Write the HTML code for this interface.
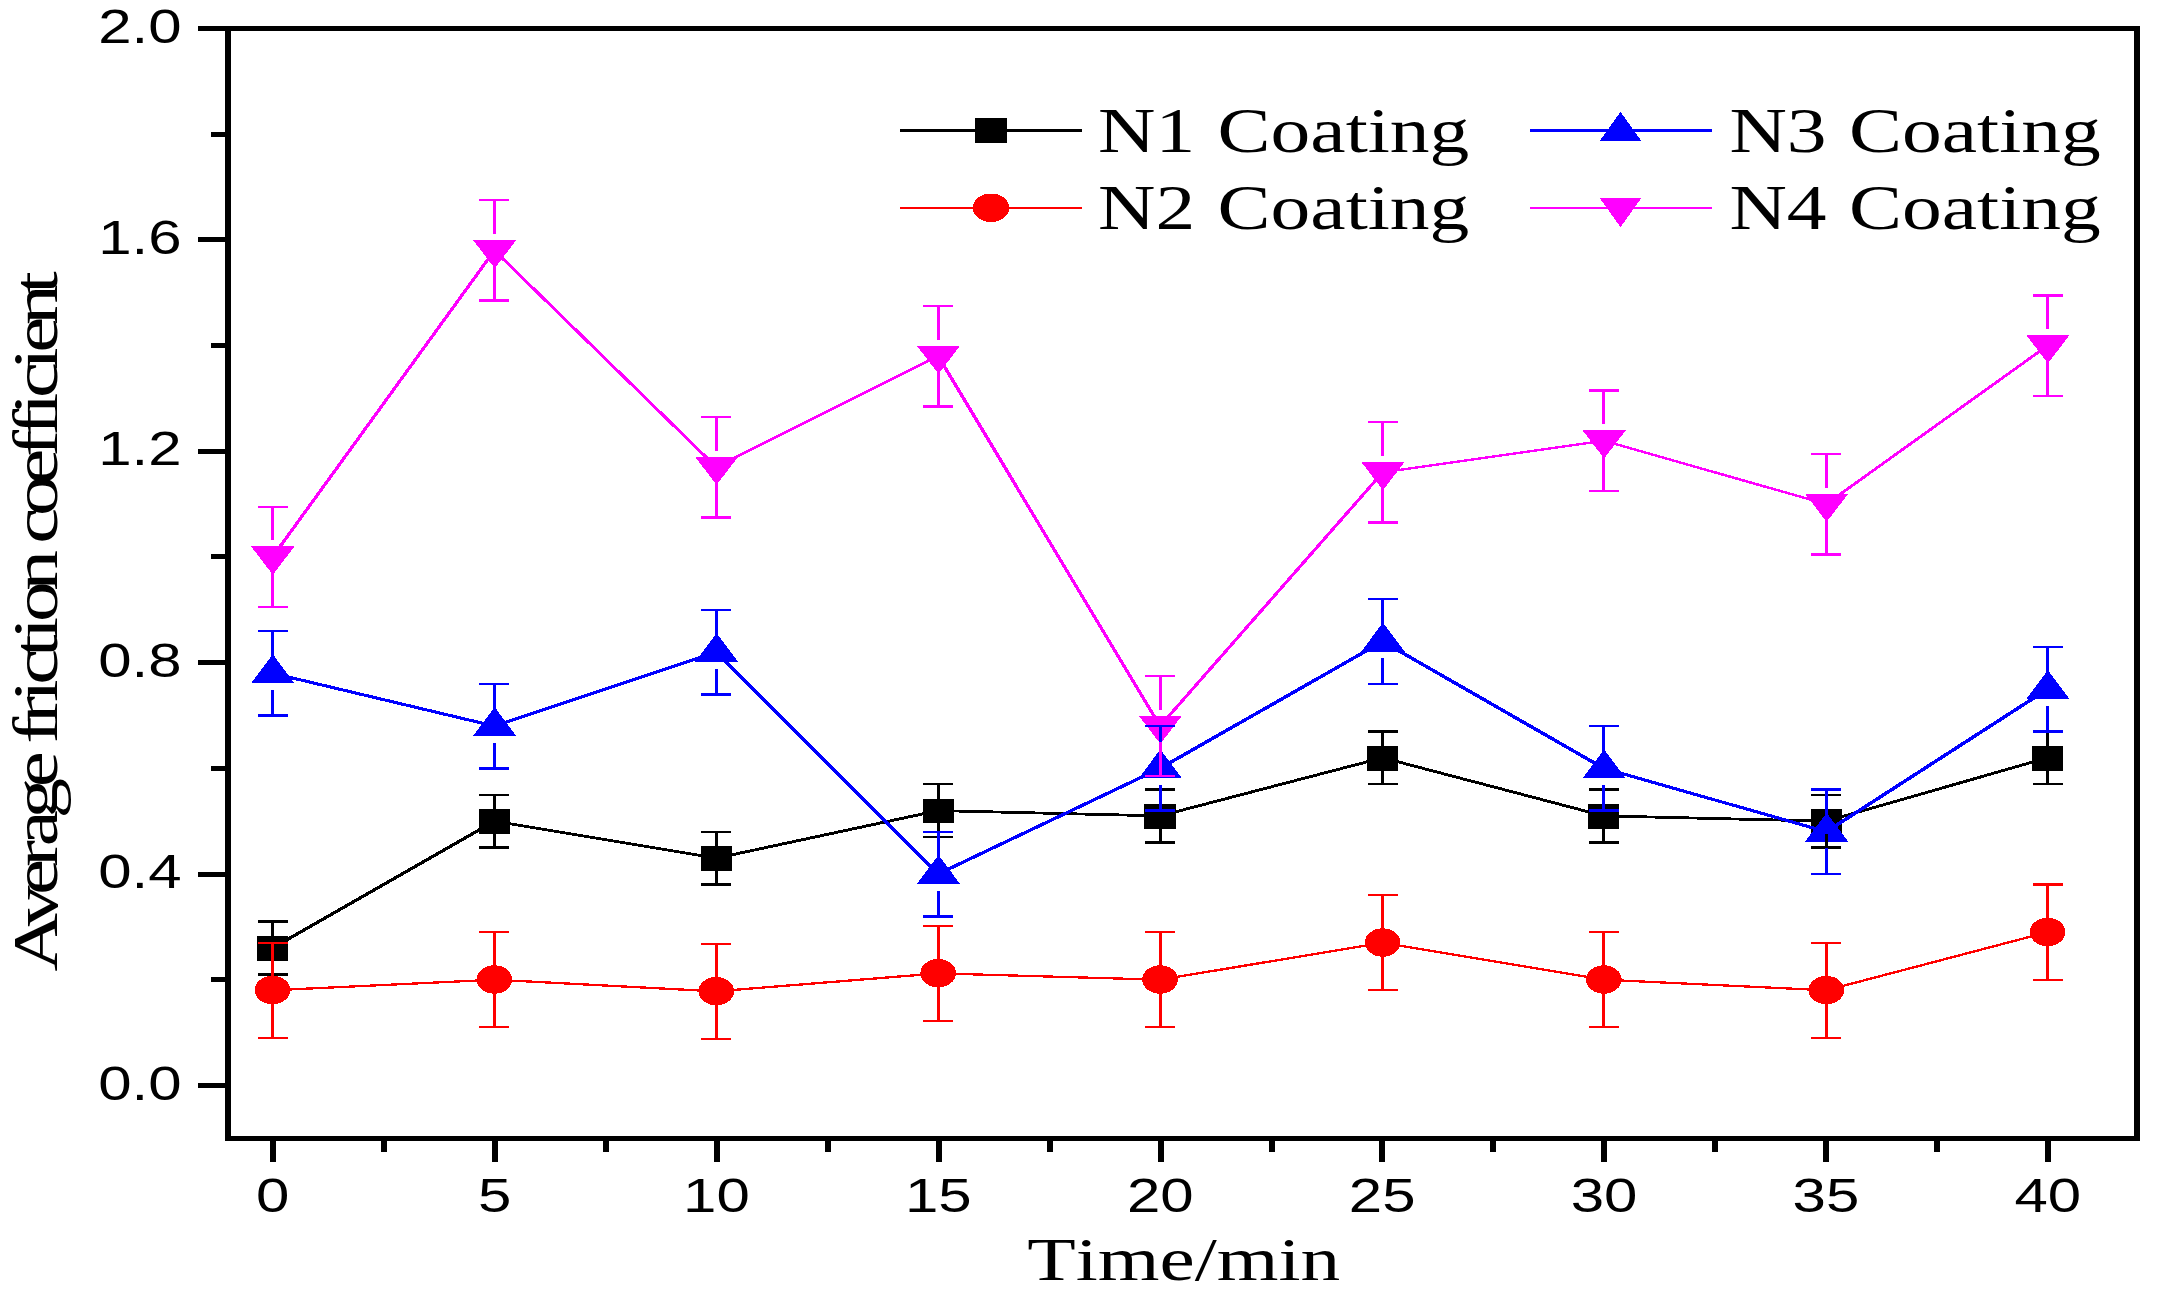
<!DOCTYPE html>
<html lang="en"><head><meta charset="utf-8"><title>Average friction coefficient vs Time</title>
<style>
html,body{margin:0;padding:0;background:#fff;}
body{width:2160px;height:1296px;overflow:hidden;}
svg{display:block;}
text{fill:#000;font-kerning:none;white-space:pre;}
</style></head><body>
<svg width="2160" height="1296" viewBox="0 0 2160 1296">
<rect width="2160" height="1296" fill="#fff"/>
<g shape-rendering="crispEdges" fill="#000">
<rect x="225" y="26" width="6" height="1115"/>
<rect x="2134" y="26" width="6" height="1115"/>
<rect x="225" y="26" width="1915" height="5"/>
<rect x="225" y="1136" width="1915" height="5"/>
<rect x="198" y="1082.9" width="28" height="5"/>
<rect x="211" y="977.21" width="15" height="5"/>
<rect x="198" y="871.52" width="28" height="5"/>
<rect x="211" y="765.83" width="15" height="5"/>
<rect x="198" y="660.14" width="28" height="5"/>
<rect x="211" y="554.45" width="15" height="5"/>
<rect x="198" y="448.76" width="28" height="5"/>
<rect x="211" y="343.07" width="15" height="5"/>
<rect x="198" y="237.38" width="28" height="5"/>
<rect x="211" y="131.69" width="15" height="5"/>
<rect x="198" y="26" width="28" height="5"/>
<rect x="270" y="1140" width="6" height="22"/>
<rect x="380.94" y="1140" width="6" height="11.5"/>
<rect x="491.89" y="1140" width="6" height="22"/>
<rect x="602.84" y="1140" width="6" height="11.5"/>
<rect x="713.78" y="1140" width="6" height="22"/>
<rect x="824.73" y="1140" width="6" height="11.5"/>
<rect x="935.67" y="1140" width="6" height="22"/>
<rect x="1046.62" y="1140" width="6" height="11.5"/>
<rect x="1157.56" y="1140" width="6" height="22"/>
<rect x="1268.51" y="1140" width="6" height="11.5"/>
<rect x="1379.45" y="1140" width="6" height="22"/>
<rect x="1490.39" y="1140" width="6" height="11.5"/>
<rect x="1601.34" y="1140" width="6" height="22"/>
<rect x="1712.29" y="1140" width="6" height="11.5"/>
<rect x="1823.23" y="1140" width="6" height="22"/>
<rect x="1934.17" y="1140" width="6" height="11.5"/>
<rect x="2045.12" y="1140" width="6" height="22"/>
</g>
<text transform="translate(98.16,1099.63) scale(1.235,1)" font-family="'Liberation Sans', Arial, sans-serif" font-size="48.6" >0.0</text>
<text transform="translate(98.16,888.25) scale(1.235,1)" font-family="'Liberation Sans', Arial, sans-serif" font-size="48.6" >0.4</text>
<text transform="translate(98.16,676.87) scale(1.235,1)" font-family="'Liberation Sans', Arial, sans-serif" font-size="48.6" >0.8</text>
<text transform="translate(98.16,465.49) scale(1.235,1)" font-family="'Liberation Sans', Arial, sans-serif" font-size="48.6" >1.2</text>
<text transform="translate(98.16,254.11) scale(1.235,1)" font-family="'Liberation Sans', Arial, sans-serif" font-size="48.6" >1.6</text>
<text transform="translate(98.16,42.73) scale(1.235,1)" font-family="'Liberation Sans', Arial, sans-serif" font-size="48.6" >2.0</text>
<text transform="translate(256.01,1211.6) scale(1.235,1)" font-family="'Liberation Sans', Arial, sans-serif" font-size="48.6" >0</text>
<text transform="translate(477.9,1211.6) scale(1.235,1)" font-family="'Liberation Sans', Arial, sans-serif" font-size="48.6" >5</text>
<text transform="translate(683.1,1211.6) scale(1.235,1)" font-family="'Liberation Sans', Arial, sans-serif" font-size="48.6" >10</text>
<text transform="translate(904.99,1211.6) scale(1.235,1)" font-family="'Liberation Sans', Arial, sans-serif" font-size="48.6" >15</text>
<text transform="translate(1126.88,1211.6) scale(1.235,1)" font-family="'Liberation Sans', Arial, sans-serif" font-size="48.6" >20</text>
<text transform="translate(1348.77,1211.6) scale(1.235,1)" font-family="'Liberation Sans', Arial, sans-serif" font-size="48.6" >25</text>
<text transform="translate(1570.66,1211.6) scale(1.235,1)" font-family="'Liberation Sans', Arial, sans-serif" font-size="48.6" >30</text>
<text transform="translate(1792.55,1211.6) scale(1.235,1)" font-family="'Liberation Sans', Arial, sans-serif" font-size="48.6" >35</text>
<text transform="translate(2014.44,1211.6) scale(1.235,1)" font-family="'Liberation Sans', Arial, sans-serif" font-size="48.6" >40</text>
<text transform="translate(1027.27,1279.9) scale(1.282,1)" font-family="'Liberation Serif', 'Times New Roman', serif" font-size="61.9" >Time/min</text>
<text transform="translate(57.2,971.39) rotate(-90) scale(1.27,1)" font-family="'Liberation Serif', 'Times New Roman', serif" font-size="64.0" x="0 35.6 60.24 82.12 98.53 120.41 145.06 166.94 179.26 195.67 212.09 225.78 247.66 261.35 275.05 299.7 324.34 336.66 358.54 383.19 405.07 421.48 437.89 451.59 473.47 487.16 509.04 533.68" y="0">Average friction coefficient</text>
<g shape-rendering="crispEdges">
<polyline transform="scale(1.5,1)" points="181.67,948 329.59,821.18 477.52,858.17 625.45,810.61 773.37,815.89 921.77,757.76 1069.23,815.89 1217.55,821.18 1365.08,757.76" fill="none" stroke="#000000" stroke-width="2.8" stroke-linejoin="round"/>
<rect x="256.9" y="936" width="31.2" height="24.8" fill="#000000"/>
<rect x="478.79" y="809.18" width="31.2" height="24.8" fill="#000000"/>
<rect x="700.68" y="846.17" width="31.2" height="24.8" fill="#000000"/>
<rect x="922.57" y="798.61" width="31.2" height="24.8" fill="#000000"/>
<rect x="1144.46" y="803.89" width="31.2" height="24.8" fill="#000000"/>
<rect x="1367.05" y="745.76" width="31.2" height="24.8" fill="#000000"/>
<rect x="1588.24" y="803.89" width="31.2" height="24.8" fill="#000000"/>
<rect x="1810.73" y="809.18" width="31.2" height="24.8" fill="#000000"/>
<rect x="2032.02" y="745.76" width="31.2" height="24.8" fill="#000000"/>
<polyline transform="scale(1.5,1)" points="181.67,990.28 329.59,979.71 477.52,991.34 625.45,973.37 773.37,979.71 921.77,942.72 1069.23,979.71 1217.55,990.28 1365.08,932.15" fill="none" stroke="#FF0000" stroke-width="2.3" stroke-linejoin="round"/>
<ellipse cx="272.5" cy="990.08" rx="17.8" ry="14.2" fill="#FF0000"/>
<ellipse cx="494.39" cy="979.51" rx="17.8" ry="14.2" fill="#FF0000"/>
<ellipse cx="716.28" cy="991.14" rx="17.8" ry="14.2" fill="#FF0000"/>
<ellipse cx="938.17" cy="973.17" rx="17.8" ry="14.2" fill="#FF0000"/>
<ellipse cx="1160.06" cy="979.51" rx="17.8" ry="14.2" fill="#FF0000"/>
<ellipse cx="1382.65" cy="942.52" rx="17.8" ry="14.2" fill="#FF0000"/>
<ellipse cx="1603.84" cy="979.51" rx="17.8" ry="14.2" fill="#FF0000"/>
<ellipse cx="1826.33" cy="990.08" rx="17.8" ry="14.2" fill="#FF0000"/>
<ellipse cx="2047.62" cy="931.95" rx="17.8" ry="14.2" fill="#FF0000"/>
<polyline transform="scale(1.5,1)" points="181.67,673.21 329.59,726.05 477.52,652.07 625.45,874.02 773.37,768.33 921.77,641.5 1069.23,768.33 1217.55,831.74 1365.08,689.06" fill="none" stroke="#0000FF" stroke-width="3.0" stroke-linejoin="round"/>
<polygon points="272.8,654.21 294.5,683.31 251.1,683.31" fill="#0000FF"/>
<polygon points="494.69,707.05 516.39,736.15 472.99,736.15" fill="#0000FF"/>
<polygon points="716.58,633.07 738.28,662.17 694.88,662.17" fill="#0000FF"/>
<polygon points="938.47,855.02 960.17,884.12 916.77,884.12" fill="#0000FF"/>
<polygon points="1160.36,749.33 1182.06,778.43 1138.66,778.43" fill="#0000FF"/>
<polygon points="1382.95,622.5 1404.65,651.6 1361.25,651.6" fill="#0000FF"/>
<polygon points="1604.14,749.33 1625.84,778.43 1582.44,778.43" fill="#0000FF"/>
<polygon points="1826.63,812.74 1848.33,841.84 1804.93,841.84" fill="#0000FF"/>
<polygon points="2047.92,670.06 2069.62,699.16 2026.22,699.16" fill="#0000FF"/>
<polyline transform="scale(1.5,1)" points="181.67,556.95 329.59,250.45 477.52,467.11 625.45,356.14 773.37,726.05 921.77,472.4 1069.23,440.69 1217.55,504.11 1365.08,345.57" fill="none" stroke="#FF00FF" stroke-width="2.4" stroke-linejoin="round"/>
<polygon points="272.8,574.75 294.5,546.45 251.1,546.45" fill="#FF00FF"/>
<polygon points="494.69,268.25 516.39,239.95 472.99,239.95" fill="#FF00FF"/>
<polygon points="716.58,484.91 738.28,456.61 694.88,456.61" fill="#FF00FF"/>
<polygon points="938.47,373.94 960.17,345.64 916.77,345.64" fill="#FF00FF"/>
<polygon points="1160.36,743.85 1182.06,715.55 1138.66,715.55" fill="#FF00FF"/>
<polygon points="1382.95,490.2 1404.65,461.9 1361.25,461.9" fill="#FF00FF"/>
<polygon points="1604.14,458.49 1625.84,430.19 1582.44,430.19" fill="#FF00FF"/>
<polygon points="1826.63,521.9 1848.33,493.61 1804.93,493.61" fill="#FF00FF"/>
<polygon points="2047.92,363.37 2069.62,335.07 2026.22,335.07" fill="#FF00FF"/>
<rect x="257.5" y="920.38" width="30" height="2.4" fill="#000000"/>
<rect x="257.5" y="973.23" width="30" height="2.4" fill="#000000"/>
<rect x="271" y="921.58" width="3" height="14.42" fill="#000000"/>
<rect x="271" y="960.6" width="3" height="13.82" fill="#000000"/>
<rect x="479.39" y="793.55" width="30" height="2.4" fill="#000000"/>
<rect x="479.39" y="846.4" width="30" height="2.4" fill="#000000"/>
<rect x="492.89" y="794.75" width="3" height="14.42" fill="#000000"/>
<rect x="492.89" y="833.78" width="3" height="13.82" fill="#000000"/>
<rect x="701.28" y="830.54" width="30" height="2.4" fill="#000000"/>
<rect x="701.28" y="883.39" width="30" height="2.4" fill="#000000"/>
<rect x="714.78" y="831.74" width="3" height="14.42" fill="#000000"/>
<rect x="714.78" y="870.77" width="3" height="13.82" fill="#000000"/>
<rect x="923.17" y="782.98" width="30" height="2.4" fill="#000000"/>
<rect x="923.17" y="835.83" width="30" height="2.4" fill="#000000"/>
<rect x="936.67" y="784.18" width="3" height="14.42" fill="#000000"/>
<rect x="936.67" y="823.21" width="3" height="13.82" fill="#000000"/>
<rect x="1145.06" y="788.27" width="30" height="2.4" fill="#000000"/>
<rect x="1145.06" y="841.11" width="30" height="2.4" fill="#000000"/>
<rect x="1158.56" y="789.47" width="3" height="14.42" fill="#000000"/>
<rect x="1158.56" y="828.49" width="3" height="13.82" fill="#000000"/>
<rect x="1367.65" y="730.14" width="30" height="2.4" fill="#000000"/>
<rect x="1367.65" y="782.98" width="30" height="2.4" fill="#000000"/>
<rect x="1381.15" y="731.34" width="3" height="14.42" fill="#000000"/>
<rect x="1381.15" y="770.36" width="3" height="13.82" fill="#000000"/>
<rect x="1588.84" y="788.27" width="30" height="2.4" fill="#000000"/>
<rect x="1588.84" y="841.11" width="30" height="2.4" fill="#000000"/>
<rect x="1602.34" y="789.47" width="3" height="14.42" fill="#000000"/>
<rect x="1602.34" y="828.49" width="3" height="13.82" fill="#000000"/>
<rect x="1811.33" y="793.55" width="30" height="2.4" fill="#000000"/>
<rect x="1811.33" y="846.4" width="30" height="2.4" fill="#000000"/>
<rect x="1824.83" y="794.75" width="3" height="14.42" fill="#000000"/>
<rect x="1824.83" y="833.78" width="3" height="13.82" fill="#000000"/>
<rect x="2032.62" y="730.14" width="30" height="2.4" fill="#000000"/>
<rect x="2032.62" y="782.98" width="30" height="2.4" fill="#000000"/>
<rect x="2046.12" y="731.34" width="3" height="14.42" fill="#000000"/>
<rect x="2046.12" y="770.36" width="3" height="13.82" fill="#000000"/>
<rect x="257.5" y="941.52" width="30" height="2.4" fill="#FF0000"/>
<rect x="257.5" y="1036.64" width="30" height="2.4" fill="#FF0000"/>
<rect x="271" y="942.72" width="3" height="35.06" fill="#FF0000"/>
<rect x="271" y="1002.78" width="3" height="35.06" fill="#FF0000"/>
<rect x="479.39" y="930.95" width="30" height="2.4" fill="#FF0000"/>
<rect x="479.39" y="1026.07" width="30" height="2.4" fill="#FF0000"/>
<rect x="492.89" y="932.15" width="3" height="35.06" fill="#FF0000"/>
<rect x="492.89" y="992.21" width="3" height="35.06" fill="#FF0000"/>
<rect x="701.28" y="942.58" width="30" height="2.4" fill="#FF0000"/>
<rect x="701.28" y="1037.7" width="30" height="2.4" fill="#FF0000"/>
<rect x="714.78" y="943.78" width="3" height="35.06" fill="#FF0000"/>
<rect x="714.78" y="1003.84" width="3" height="35.06" fill="#FF0000"/>
<rect x="923.17" y="924.61" width="30" height="2.4" fill="#FF0000"/>
<rect x="923.17" y="1019.73" width="30" height="2.4" fill="#FF0000"/>
<rect x="936.67" y="925.81" width="3" height="35.06" fill="#FF0000"/>
<rect x="936.67" y="985.87" width="3" height="35.06" fill="#FF0000"/>
<rect x="1145.06" y="930.95" width="30" height="2.4" fill="#FF0000"/>
<rect x="1145.06" y="1026.07" width="30" height="2.4" fill="#FF0000"/>
<rect x="1158.56" y="932.15" width="3" height="35.06" fill="#FF0000"/>
<rect x="1158.56" y="992.21" width="3" height="35.06" fill="#FF0000"/>
<rect x="1367.65" y="893.96" width="30" height="2.4" fill="#FF0000"/>
<rect x="1367.65" y="989.08" width="30" height="2.4" fill="#FF0000"/>
<rect x="1381.15" y="895.16" width="3" height="35.06" fill="#FF0000"/>
<rect x="1381.15" y="955.22" width="3" height="35.06" fill="#FF0000"/>
<rect x="1588.84" y="930.95" width="30" height="2.4" fill="#FF0000"/>
<rect x="1588.84" y="1026.07" width="30" height="2.4" fill="#FF0000"/>
<rect x="1602.34" y="932.15" width="3" height="35.06" fill="#FF0000"/>
<rect x="1602.34" y="992.21" width="3" height="35.06" fill="#FF0000"/>
<rect x="1811.33" y="941.52" width="30" height="2.4" fill="#FF0000"/>
<rect x="1811.33" y="1036.64" width="30" height="2.4" fill="#FF0000"/>
<rect x="1824.83" y="942.72" width="3" height="35.06" fill="#FF0000"/>
<rect x="1824.83" y="1002.78" width="3" height="35.06" fill="#FF0000"/>
<rect x="2032.62" y="883.39" width="30" height="2.4" fill="#FF0000"/>
<rect x="2032.62" y="978.51" width="30" height="2.4" fill="#FF0000"/>
<rect x="2046.12" y="884.59" width="3" height="35.06" fill="#FF0000"/>
<rect x="2046.12" y="944.65" width="3" height="35.06" fill="#FF0000"/>
<rect x="257.5" y="629.73" width="30" height="2.4" fill="#0000FF"/>
<rect x="257.5" y="714.28" width="30" height="2.4" fill="#0000FF"/>
<rect x="271" y="630.93" width="3" height="26.28" fill="#0000FF"/>
<rect x="271" y="689.71" width="3" height="25.78" fill="#0000FF"/>
<rect x="479.39" y="682.58" width="30" height="2.4" fill="#0000FF"/>
<rect x="479.39" y="767.13" width="30" height="2.4" fill="#0000FF"/>
<rect x="492.89" y="683.78" width="3" height="26.28" fill="#0000FF"/>
<rect x="492.89" y="742.55" width="3" height="25.78" fill="#0000FF"/>
<rect x="701.28" y="608.6" width="30" height="2.4" fill="#0000FF"/>
<rect x="701.28" y="693.15" width="30" height="2.4" fill="#0000FF"/>
<rect x="714.78" y="609.8" width="3" height="26.28" fill="#0000FF"/>
<rect x="714.78" y="668.57" width="3" height="25.78" fill="#0000FF"/>
<rect x="923.17" y="830.54" width="30" height="2.4" fill="#0000FF"/>
<rect x="923.17" y="915.1" width="30" height="2.4" fill="#0000FF"/>
<rect x="936.67" y="831.74" width="3" height="26.28" fill="#0000FF"/>
<rect x="936.67" y="890.52" width="3" height="25.78" fill="#0000FF"/>
<rect x="1145.06" y="724.85" width="30" height="2.4" fill="#0000FF"/>
<rect x="1145.06" y="809.41" width="30" height="2.4" fill="#0000FF"/>
<rect x="1158.56" y="726.05" width="3" height="26.28" fill="#0000FF"/>
<rect x="1158.56" y="784.83" width="3" height="25.78" fill="#0000FF"/>
<rect x="1367.65" y="598.03" width="30" height="2.4" fill="#0000FF"/>
<rect x="1367.65" y="682.58" width="30" height="2.4" fill="#0000FF"/>
<rect x="1381.15" y="599.23" width="3" height="26.28" fill="#0000FF"/>
<rect x="1381.15" y="658" width="3" height="25.78" fill="#0000FF"/>
<rect x="1588.84" y="724.85" width="30" height="2.4" fill="#0000FF"/>
<rect x="1588.84" y="809.41" width="30" height="2.4" fill="#0000FF"/>
<rect x="1602.34" y="726.05" width="3" height="26.28" fill="#0000FF"/>
<rect x="1602.34" y="784.83" width="3" height="25.78" fill="#0000FF"/>
<rect x="1811.33" y="788.27" width="30" height="2.4" fill="#0000FF"/>
<rect x="1811.33" y="872.82" width="30" height="2.4" fill="#0000FF"/>
<rect x="1824.83" y="789.47" width="3" height="26.28" fill="#0000FF"/>
<rect x="1824.83" y="848.24" width="3" height="25.78" fill="#0000FF"/>
<rect x="2032.62" y="645.59" width="30" height="2.4" fill="#0000FF"/>
<rect x="2032.62" y="730.14" width="30" height="2.4" fill="#0000FF"/>
<rect x="2046.12" y="646.79" width="3" height="26.28" fill="#0000FF"/>
<rect x="2046.12" y="705.56" width="3" height="25.78" fill="#0000FF"/>
<rect x="257.5" y="505.55" width="30" height="2.4" fill="#FF00FF"/>
<rect x="257.5" y="605.95" width="30" height="2.4" fill="#FF00FF"/>
<rect x="271" y="506.75" width="3" height="33.7" fill="#FF00FF"/>
<rect x="271" y="572.75" width="3" height="34.4" fill="#FF00FF"/>
<rect x="479.39" y="199.05" width="30" height="2.4" fill="#FF00FF"/>
<rect x="479.39" y="299.45" width="30" height="2.4" fill="#FF00FF"/>
<rect x="492.89" y="200.25" width="3" height="33.7" fill="#FF00FF"/>
<rect x="492.89" y="266.25" width="3" height="34.4" fill="#FF00FF"/>
<rect x="701.28" y="415.71" width="30" height="2.4" fill="#FF00FF"/>
<rect x="701.28" y="516.12" width="30" height="2.4" fill="#FF00FF"/>
<rect x="714.78" y="416.91" width="3" height="33.7" fill="#FF00FF"/>
<rect x="714.78" y="482.91" width="3" height="34.4" fill="#FF00FF"/>
<rect x="923.17" y="304.74" width="30" height="2.4" fill="#FF00FF"/>
<rect x="923.17" y="405.14" width="30" height="2.4" fill="#FF00FF"/>
<rect x="936.67" y="305.94" width="3" height="33.7" fill="#FF00FF"/>
<rect x="936.67" y="371.94" width="3" height="34.4" fill="#FF00FF"/>
<rect x="1145.06" y="674.65" width="30" height="2.4" fill="#FF00FF"/>
<rect x="1145.06" y="775.06" width="30" height="2.4" fill="#FF00FF"/>
<rect x="1158.56" y="675.85" width="3" height="33.7" fill="#FF00FF"/>
<rect x="1158.56" y="741.85" width="3" height="34.4" fill="#FF00FF"/>
<rect x="1367.65" y="421" width="30" height="2.4" fill="#FF00FF"/>
<rect x="1367.65" y="521.4" width="30" height="2.4" fill="#FF00FF"/>
<rect x="1381.15" y="422.2" width="3" height="33.7" fill="#FF00FF"/>
<rect x="1381.15" y="488.2" width="3" height="34.4" fill="#FF00FF"/>
<rect x="1588.84" y="389.29" width="30" height="2.4" fill="#FF00FF"/>
<rect x="1588.84" y="489.69" width="30" height="2.4" fill="#FF00FF"/>
<rect x="1602.34" y="390.49" width="3" height="33.7" fill="#FF00FF"/>
<rect x="1602.34" y="456.49" width="3" height="34.4" fill="#FF00FF"/>
<rect x="1811.33" y="452.7" width="30" height="2.4" fill="#FF00FF"/>
<rect x="1811.33" y="553.11" width="30" height="2.4" fill="#FF00FF"/>
<rect x="1824.83" y="453.9" width="3" height="33.7" fill="#FF00FF"/>
<rect x="1824.83" y="519.9" width="3" height="34.4" fill="#FF00FF"/>
<rect x="2032.62" y="294.17" width="30" height="2.4" fill="#FF00FF"/>
<rect x="2032.62" y="394.57" width="30" height="2.4" fill="#FF00FF"/>
<rect x="2046.12" y="295.37" width="3" height="33.7" fill="#FF00FF"/>
<rect x="2046.12" y="361.37" width="3" height="34.4" fill="#FF00FF"/>
</g>
<g shape-rendering="crispEdges">
<rect x="900" y="128.75" width="182" height="3.3" fill="#000000"/>
<rect x="975" y="118" width="32" height="25" fill="#000000"/>
<rect x="900" y="207" width="182" height="2.0" fill="#FF0000"/>
<ellipse cx="991" cy="207.8" rx="18.2" ry="14.3" fill="#FF0000"/>
<rect x="1530" y="128.95" width="182" height="3.3" fill="#0000FF"/>
<polygon points="1620.5,111.8 1641.3,141 1599.7,141" fill="#0000FF"/>
<rect x="1530" y="206.8" width="182" height="2.4" fill="#FF00FF"/>
<polygon points="1620.5,227.2 1641.3,198 1599.7,198" fill="#FF00FF"/>
</g>
<text transform="translate(1098.01,152) scale(1.27,1)" font-family="'Liberation Serif', 'Times New Roman', serif" font-size="62.6" word-spacing="2">N1 Coating</text>
<text transform="translate(1098.01,228.9) scale(1.27,1)" font-family="'Liberation Serif', 'Times New Roman', serif" font-size="62.6" word-spacing="2">N2 Coating</text>
<text transform="translate(1729.41,152) scale(1.27,1)" font-family="'Liberation Serif', 'Times New Roman', serif" font-size="62.6" word-spacing="2">N3 Coating</text>
<text transform="translate(1729.41,228.9) scale(1.27,1)" font-family="'Liberation Serif', 'Times New Roman', serif" font-size="62.6" word-spacing="2">N4 Coating</text>
</svg>
</body></html>
